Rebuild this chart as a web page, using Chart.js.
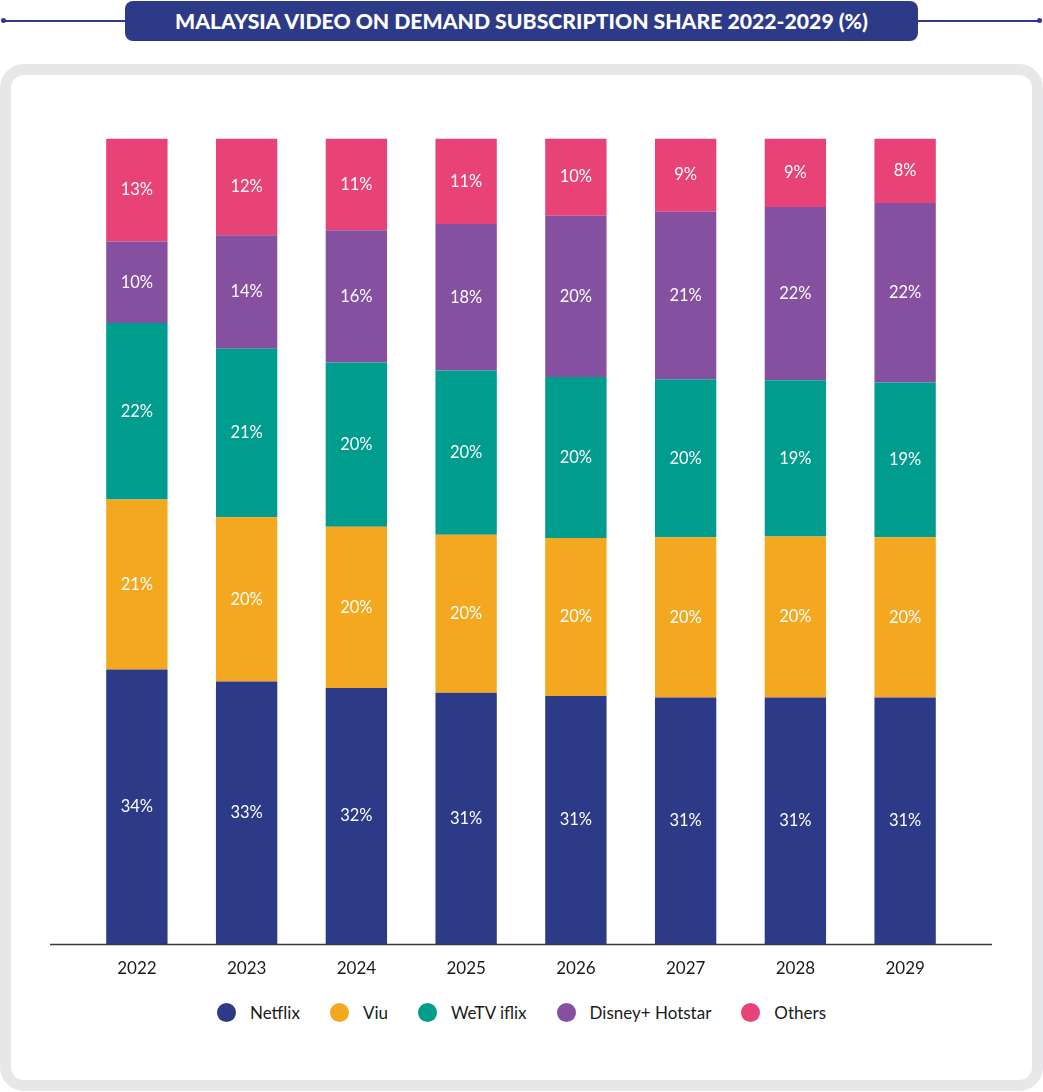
<!DOCTYPE html>
<html>
<head>
<meta charset="utf-8">
<script src="https://cdn.jsdelivr.net/npm/chart.js@4.4.0/dist/chart.umd.min.js"></script>
<style>
  body { margin: 0; width: 1043px; height: 1092px; background: #fff; font-family: Lato, sans-serif; position: relative; overflow: hidden; }
  .rule { position: absolute; top: 20px; height: 1.5px; background: #2c3a87; }
  .dot { position: absolute; top: 18px; width: 5px; height: 5px; border-radius: 50%; background: #2c3a87; }
  .banner { position: absolute; left: 125px; top: 1px; width: 793px; height: 40px; background: #2c3a87; border-radius: 8px;
            color: #fff; font-weight: 900; font-size: 21.2px; line-height: 41px; text-align: center; }
  .panel { position: absolute; left: 0; top: 64px; width: 1043px; height: 1027px; box-sizing: border-box;
           border: 11px solid #e6e7e8; border-radius: 24px; background: #fff; }
  .chart-box { position: absolute; left: 0; top: 100px; width: 1043px; height: 900px; }
  #legend { position: absolute; left: 0; top: 1002px; width: 1043px; display: flex; justify-content: center; }
  .item { display: flex; align-items: center; margin: 0 15px; font-size: 17px; color: #1a1a1a; }
  .item span.c { width: 19px; height: 19px; border-radius: 50%; margin-right: 14px; }
</style>
</head>
<body>
<div class="rule" style="left:3px;width:122px"></div>
<div class="rule" style="left:918px;width:122px"></div>
<div class="dot" style="left:1px"></div>
<div class="dot" style="left:1037px"></div>
<div class="banner">MALAYSIA VIDEO ON DEMAND SUBSCRIPTION SHARE 2022-2029 (%)</div>
<div class="panel"></div>
<div class="chart-box"><canvas id="myChart"></canvas></div>
<div id="legend"></div>
<script>
// données (%)
const years = ['2022', '2023', '2024', '2025', '2026', '2027', '2028', '2029'];
const netflix = [34.1, 32.6, 31.8, 31.2, 30.8, 30.6, 30.6, 30.6];
const viu = [21.1, 20.4, 20.0, 19.6, 19.6, 19.9, 20.0, 19.9];
const wetv = [21.9, 20.9, 20.4, 20.4, 20.0, 19.6, 19.4, 19.2];
const disney = [10.1, 14.1, 16.4, 18.2, 20.0, 20.8, 21.5, 22.3];
const others = [12.8, 12.0, 11.4, 10.6, 9.6, 9.1, 8.5, 8.0];

const seriesNames = ['Netflix', 'Viu', 'WeTV iflix', 'Disney+ Hotstar', 'Others'];
const seriesColors = ['#2c3a87', '#f4a820', '#009d8f', '#8650a0', '#e84377'];
const seriesData = [netflix, viu, wetv, disney, others];

Chart.defaults.font.family = 'Lato, sans-serif';

// étiquettes blanches au milieu de chaque segment
const segmentLabels = {
    id: 'segmentLabels',
    afterDatasetsDraw(chart) {
        const ctx = chart.ctx;
        ctx.save();
        ctx.fillStyle = '#fff';
        ctx.font = '16.5px Lato, sans-serif';
        ctx.textAlign = 'center';
        ctx.textBaseline = 'middle';
        chart.data.datasets.forEach((ds, i) => {
            chart.getDatasetMeta(i).data.forEach((bar, j) => {
                ctx.fillText(Math.round(ds.data[j]) + '%', bar.x, (bar.y + bar.base) / 2);
            });
        });
        ctx.restore();
    }
};

// ligne de base plus large que la zone des barres
const baseLine = {
    id: 'baseLine',
    afterDraw(chart) {
        const a = chart.chartArea;
        const ctx = chart.ctx;
        ctx.save();
        ctx.strokeStyle = '#3a3a3a';
        ctx.lineWidth = 1.5;
        ctx.beginPath();
        ctx.moveTo(a.left - 32, a.bottom + 0.5);
        ctx.lineTo(a.right + 32, a.bottom + 0.5);
        ctx.stroke();
        ctx.restore();
    }
};

const ctx = document.getElementById('myChart').getContext('2d');
const myChart = new Chart(ctx, {
    type: 'bar',
    data: {
        labels: years,
        datasets: seriesNames.map((name, i) => ({
            label: name,
            data: seriesData[i],
            backgroundColor: seriesColors[i],
            borderWidth: 0,
            categoryPercentage: 1,
            barPercentage: 0.559
        }))
    },
    options: {
        responsive: true,
        maintainAspectRatio: false,
        animation: false,
        layout: { padding: { top: 38.5, left: 82, right: 83, bottom: 7.5 } },
        scales: {
            x: {
                stacked: true,
                grid: { display: false, drawTicks: false },
                border: { display: false },
                ticks: { color: '#1a1a1a', font: { size: 17 }, padding: 14 }
            },
            y: {
                stacked: true,
                display: false,
                min: 0,
                max: 100
            }
        },
        plugins: {
            legend: { display: false },
            tooltip: { enabled: false }
        }
    },
    plugins: [segmentLabels, baseLine]
});

// légende en HTML
const legend = document.getElementById('legend');
seriesNames.forEach((name, i) => {
    const item = document.createElement('div');
    item.className = 'item';
    item.innerHTML = '<span class="c" style="background:' + seriesColors[i] + '"></span>' + name;
    legend.appendChild(item);
});
</script>
</body>
</html>
